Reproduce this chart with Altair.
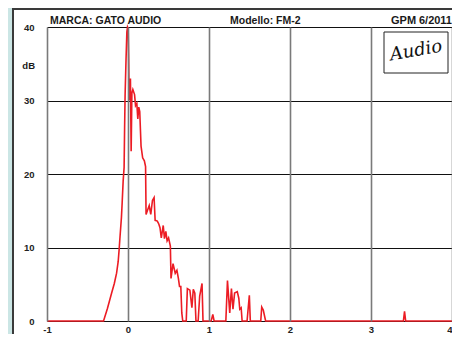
import altair as alt
import pandas as pd

# Frequency axis values and level in dB
freq = [-1.0, -0.302, -0.254, -0.202, -0.169, -0.141, -0.121, -0.109, -0.097, -0.081,
        -0.072, -0.060, -0.048, -0.042, -0.036, -0.024, -0.014, -0.006, 0.002, 0.008,
        0.014, 0.024, 0.030, 0.039, 0.048, 0.060, 0.081, 0.093, 0.109, 0.121,
        0.133, 0.145, 0.161, 0.181, 0.202, 0.217, 0.223, 0.242, 0.262, 0.281,
        0.302, 0.322, 0.335, 0.362, 0.380, 0.395, 0.411, 0.435, 0.450, 0.467,
        0.483, 0.501, 0.523, 0.531, 0.556, 0.583, 0.604, 0.622, 0.636, 0.652,
        0.664, 0.676, 0.719, 0.733, 0.764, 0.789, 0.806, 0.825, 0.839, 0.866,
        0.885, 0.914, 0.926, 1.027, 1.047, 1.063, 1.208, 1.228, 1.256, 1.277,
        1.296, 1.316, 1.349, 1.368, 1.380, 1.397, 1.409, 1.470, 1.498, 1.510,
        1.639, 1.651, 1.670, 1.699, 3.400, 3.414, 3.428, 4.0]
level = [0, 0, 1.7, 3.8, 5.1, 6.5, 8.1, 9.8, 11.7, 14.1,
         16.1, 19.0, 20.9, 26.2, 30.6, 35.7, 39.3, 40.0, 39.8, 35.7,
         30.0, 31.9, 33.0, 23.1, 31.0, 31.5, 30.8, 29.3, 29.6, 27.5,
         29.1, 28.5, 23.8, 22.2, 21.8, 21.0, 14.5, 15.1, 15.7, 14.5,
         16.4, 16.8, 13.7, 13.6, 13.2, 12.7, 11.3, 13.0, 11.2, 12.2,
         10.9, 11.3, 10.2, 5.8, 7.8, 6.5, 6.9, 5.8, 4.7, 4.7,
         1.1, 0, 0, 4.4, 4.2, 1.8, 4.3, 3.8, 0, 0,
         3.4, 5.1, 0, 0, 0.9, 0, 0, 5.5, 1.1, 4.4,
         1.6, 3.8, 4.0, 3.1, 1.6, 1.8, 0, 0, 3.5, 0,
         0, 1.9, 1.5, 0, 0, 1.3, 0, 0]

x_ticks = [-1, 0, 1, 2, 3, 4]
y_ticks = [0, 10, 20, 30, 40]

brand = "MARCA: GATO AUDIO"
model = "Modello: FM-2"
author = "GPM"
date = "6/2011"
unit = "dB"
logo = "Audio"

W, H = 405, 294
FONT = "Liberation Sans"

df = pd.DataFrame({"x": freq, "dB": level})

curve = alt.Chart(df).mark_line(color="#ec1c24", strokeWidth=1.6).encode(
    x=alt.X("x:Q", scale=alt.Scale(domain=[-1, 4], nice=False, zero=False),
            axis=alt.Axis(values=x_ticks, title=None, grid=True, gridColor="#7a7a7a",
                          gridWidth=1.6, ticks=False, domain=False, labelFont=FONT,
                          labelFontWeight="bold", labelFontSize=9.5, labelColor="#222",
                          labelPadding=3, zindex=1, labelExpr="'' + datum.value",
                          labelFlush=False,
                          labelAlign={"condition": {"test": "datum.value == 4", "value": "right"},
                                      "value": "center"})),
    y=alt.Y("dB:Q", scale=alt.Scale(domain=[0, 40], nice=False),
            axis=alt.Axis(values=y_ticks, title=None, grid=True, gridColor="#111",
                          gridWidth=1.2, ticks=False, domain=False, labelFont=FONT,
                          labelFontWeight="bold", labelFontSize=9.5, labelColor="#222",
                          labelPadding=13, labelFlush=False)),
)

# decoration: teal strip and panel border at the left/top
teal = alt.Chart().mark_rect(color="#cbe6e5").encode(
    x=alt.value(-39), x2=alt.value(-35), y=alt.value(-19), y2=alt.value(H + 20))
vborder = alt.Chart().mark_rule(color="#3a3a3a", strokeWidth=2).encode(
    x=alt.value(-34), y=alt.value(-19), y2=alt.value(H + 20))
hborder = alt.Chart().mark_rule(color="#3a3a3a", strokeWidth=2).encode(
    y=alt.value(-18), x=alt.value(-35), x2=alt.value(W + 5))

def label(txt, x, y, size=10.5, align="left", baseline="alphabetic"):
    return alt.Chart().mark_text(text=txt, font=FONT, fontWeight="bold", fontSize=size,
                                 color="#1a1a1a", align=align, baseline=baseline).encode(
        x=alt.value(x), y=alt.value(y))

t_brand = label(brand, 3, -3)
t_model = label(model, 183, -3)
t_author = label(author, 344, -3, size=11)
t_date = label(date, 405, -3, size=11, align="right")
t_unit = label(unit, -12, 39, size=9.5, align="right", baseline="middle")

logo_box = alt.Chart().mark_rect(fill="white", stroke="#222", strokeWidth=1).encode(
    x=alt.value(337), x2=alt.value(401), y=alt.value(5), y2=alt.value(46))
logo_txt = alt.Chart().mark_text(text=logo, font="DejaVu Serif", fontStyle="italic",
                                 fontSize=18, color="#111", angle=350,
                                 align="center", baseline="middle").encode(
    x=alt.value(369), y=alt.value(24))

chart = alt.layer(teal, vborder, hborder, curve, t_brand, t_model, t_author, t_date,
                  t_unit, logo_box, logo_txt).properties(
    width=W, height=H,
    autosize=alt.AutoSizeParams(type="none"),
    padding={"left": 39, "top": 19, "right": 0, "bottom": 13},
).configure(background="white").configure_view(stroke=None)

chart.save("out.html", embed_options={"renderer": "svg", "actions": False})
